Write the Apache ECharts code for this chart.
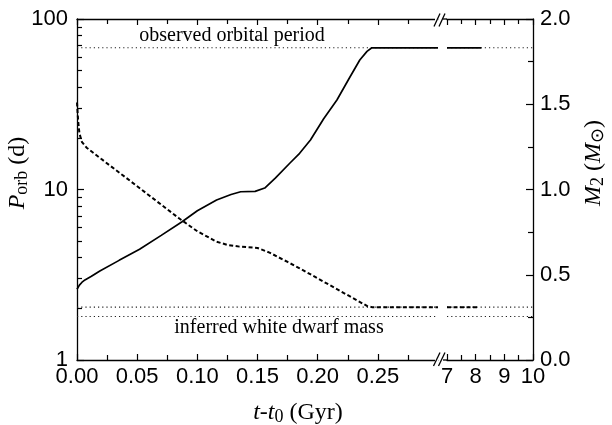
<!DOCTYPE html>
<html><head><meta charset="utf-8">
<script src="https://cdn.jsdelivr.net/npm/echarts@6/dist/echarts.min.js"></script>
<style>html,body{margin:0;padding:0;background:#fff}#c{width:612px;height:425px}</style>
</head><body><div id="c"></div>
<script>
// ---- data ----
const tEarly    = [0, 0.002, 0.004, 0.0066, 0.012, 0.019, 0.035, 0.052, 0.07, 0.087, 0.10, 0.116, 0.128, 0.136, 0.148, 0.156, 0.165, 0.177, 0.185, 0.194, 0.205, 0.216, 0.226, 0.235, 0.241, 0.245, 0.30];
const pOrbEarly = [2.60, 2.75, 2.85, 2.95, 3.10, 3.33, 3.84, 4.46, 5.38, 6.45, 7.5, 8.68, 9.35, 9.7, 9.75, 10.2, 11.7, 14.3, 16.3, 19.5, 26, 33.5, 44.6, 57.5, 64.6, 67.8, 67.8];
const tLate     = [7, 8.2];
const pOrbLate  = [67.8, 67.8];

const tMassEarly = [0, 0.0005, 0.001, 0.002, 0.004, 0.008, 0.02, 0.04, 0.06, 0.085, 0.10, 0.116, 0.125, 0.135, 0.15, 0.16, 0.175, 0.185, 0.241, 0.245, 0.30];
const m2Early    = [1.51, 1.45, 1.40, 1.33, 1.28, 1.245, 1.18, 1.073, 0.965, 0.83, 0.755, 0.694, 0.675, 0.665, 0.657, 0.63, 0.575, 0.538, 0.317, 0.31, 0.31];
const tMassLate  = [7, 8.1];
const m2Late     = [0.31, 0.31];

const observedPorb   = 67.8;
const inferredWdMass = [0.31, 0.255];

const xRangeEarly = [0, 0.30];
const xRangeLate  = [7, 10];
const xTicksEarly = [0, 0.05, 0.10, 0.15, 0.20, 0.25];
const xTicksLate  = [7, 8, 9, 10];
const pMinorTicks = [2, 3, 4, 5, 6, 7, 8, 9, 20, 30, 40, 50, 60, 70, 80, 90];

// ---- chart ----
const zip = (a, b) => a.map((v, i) => [v, b[i]]);
const black = '#000';
const axLine = { color: black, width: 1.3 };
const tickLine = { color: black, width: 1.2 };
const tickFont = { fontFamily: 'Liberation Sans, Arial, sans-serif', fontSize: 22, color: black };
const serif = 'Liberation Serif, Times New Roman, serif';

function xAx(grid, pos, range, interval, ticks, labels) {
  return {
    gridIndex: grid, type: 'value', position: pos, min: range[0], max: range[1], interval: interval,
    axisLine: { show: true, onZero: false, lineStyle: axLine },
    axisTick: { show: true, inside: true, length: 6, customValues: ticks, lineStyle: tickLine },
    minorTick: { show: true, splitNumber: 2, length: 5, lineStyle: tickLine },
    splitLine: { show: false }, minorSplitLine: { show: false },
    axisLabel: labels ? Object.assign({ margin: 6, customValues: ticks,
      formatter: v => (grid === 0 ? v.toFixed(2) : String(Math.round(v))) }, tickFont) : { show: false }
  };
}

const dotted = { color: '#222', width: 1.1, type: [1.2, 3] };
const refSeries = [];
[[0, xRangeEarly], [1, xRangeLate]].forEach(([g, r]) => {
  refSeries.push({ type: 'line', xAxisIndex: g * 2, yAxisIndex: g === 0 ? 0 : 3, symbol: 'none', silent: true,
    lineStyle: dotted, data: [[r[0], observedPorb], [r[1], observedPorb]] });
  inferredWdMass.forEach(m => refSeries.push({ type: 'line', xAxisIndex: g * 2, yAxisIndex: g === 0 ? 2 : 4,
    symbol: 'none', silent: true, lineStyle: dotted, data: [[r[0], m], [r[1], m]] }));
});

const solid = { color: black, width: 1.7 };
const dashed = { color: black, width: 2, type: [4, 2.5] };

const option = {
  animation: false,
  backgroundColor: '#fff',
  grid: [
    { left: 77, top: 19, width: 361, height: 341 },
    { left: 447, top: 19, width: 86, height: 341 }
  ],
  xAxis: [
    xAx(0, 'bottom', xRangeEarly, 0.05, xTicksEarly, true),
    xAx(0, 'top', xRangeEarly, 0.05, xTicksEarly, false),
    xAx(1, 'bottom', xRangeLate, 1, xTicksLate, true),
    xAx(1, 'top', xRangeLate, 1, xTicksLate, false)
  ],
  yAxis: [
    { gridIndex: 0, type: 'log', logBase: 10, min: 1, max: 100, position: 'left',
      axisLine: { show: true, lineStyle: axLine },
      axisTick: { show: true, inside: true, length: 7, lineStyle: tickLine },
      splitLine: { show: false },
      axisLabel: Object.assign({ margin: 9 }, tickFont) },
    { gridIndex: 0, type: 'value', min: 0, max: 2, position: 'left',
      axisLine: { show: false },
      axisTick: { show: true, inside: true, length: 5, customValues: pMinorTicks.map(Math.log10), lineStyle: tickLine },
      splitLine: { show: false }, axisLabel: { show: false } },
    { gridIndex: 0, type: 'value', min: 0, max: 2, show: false },
    { gridIndex: 1, type: 'log', logBase: 10, min: 1, max: 100, show: false },
    { gridIndex: 1, type: 'value', min: 0, max: 2, interval: 0.5, position: 'right',
      axisLine: { show: true, lineStyle: axLine },
      axisTick: { show: true, inside: true, length: 7, lineStyle: tickLine },
      minorTick: { show: true, splitNumber: 2, length: 5, lineStyle: tickLine },
      splitLine: { show: false }, minorSplitLine: { show: false },
      axisLabel: Object.assign({ margin: 7, formatter: v => v.toFixed(1) }, tickFont) }
  ],
  series: refSeries.concat([
    { type: 'line', xAxisIndex: 0, yAxisIndex: 0, symbol: 'none', lineStyle: solid, data: zip(tEarly, pOrbEarly) },
    { type: 'line', xAxisIndex: 2, yAxisIndex: 3, symbol: 'none', lineStyle: solid, data: zip(tLate, pOrbLate) },
    { type: 'line', xAxisIndex: 0, yAxisIndex: 2, symbol: 'none', lineStyle: dashed, data: zip(tMassEarly, m2Early) },
    { type: 'line', xAxisIndex: 2, yAxisIndex: 4, symbol: 'none', lineStyle: dashed, data: zip(tMassLate, m2Late) }
  ]),
  graphic: [
    { type: 'rect', z: 100, shape: { x: 435, y: 17, width: 3.6, height: 4 }, style: { fill: '#fff' } },
    { type: 'rect', z: 100, shape: { x: 435, y: 358, width: 3.6, height: 4 }, style: { fill: '#fff' } },
    { type: 'line', z: 100, shape: { x1: 443, y1: 19, x2: 447, y2: 19 }, style: { stroke: black, lineWidth: 1.3 } },
    { type: 'line', z: 100, shape: { x1: 443, y1: 360, x2: 447, y2: 360 }, style: { stroke: black, lineWidth: 1.3 } },
    { type: 'line', z: 101, shape: { x1: 434, y1: 26.5, x2: 440, y2: 13.5 }, style: { stroke: black, lineWidth: 1.3 } },
    { type: 'line', z: 101, shape: { x1: 439, y1: 26.5, x2: 445, y2: 13.5 }, style: { stroke: black, lineWidth: 1.3 } },
    { type: 'line', z: 101, shape: { x1: 433.5, y1: 366, x2: 440, y2: 352.5 }, style: { stroke: black, lineWidth: 1.3 } },
    { type: 'line', z: 101, shape: { x1: 438.5, y1: 366, x2: 445, y2: 352.5 }, style: { stroke: black, lineWidth: 1.3 } },
    { type: 'text', z: 100, x: 232, y: 36, style: { text: 'observed orbital period', font: '20px ' + serif, fill: black, align: 'center', verticalAlign: 'middle' } },
    { type: 'text', z: 100, x: 279, y: 328, style: { text: 'inferred white dwarf mass', font: '20px ' + serif, fill: black, align: 'center', verticalAlign: 'middle' } },
    { type: 'text', z: 100, x: 298, y: 413, style: { text: '{i|t}-{i|t}{s|0} (Gyr)', font: '24px ' + serif, fill: black, align: 'center', verticalAlign: 'middle',
      rich: { i: { fontStyle: 'italic', fontFamily: serif, fontSize: 24 }, s: { fontFamily: serif, fontSize: 18, padding: [9, 0, 0, 0] } } } },
    { type: 'text', z: 100, x: 18, y: 173, rotation: Math.PI / 2, style: { text: '{i|P}{s|orb} (d)', font: '24px ' + serif, fill: black, align: 'center', verticalAlign: 'middle',
      rich: { i: { fontStyle: 'italic', fontFamily: serif, fontSize: 24 }, s: { fontFamily: serif, fontSize: 18, padding: [9, 0, 0, 0] } } } },
    { type: 'text', z: 100, x: 594, y: 163, rotation: Math.PI / 2, style: { text: '{i|M}{s|2} ({i|M}{s|⊙})', font: '24px ' + serif, fill: black, align: 'center', verticalAlign: 'middle',
      rich: { i: { fontStyle: 'italic', fontFamily: serif, fontSize: 24 }, s: { fontFamily: serif, fontSize: 18, padding: [9, 0, 0, 0] } } } }
  ]
};
const chart = echarts.init(document.getElementById('c'), null, { renderer: 'canvas' });
chart.setOption(option);
</script></body></html>
